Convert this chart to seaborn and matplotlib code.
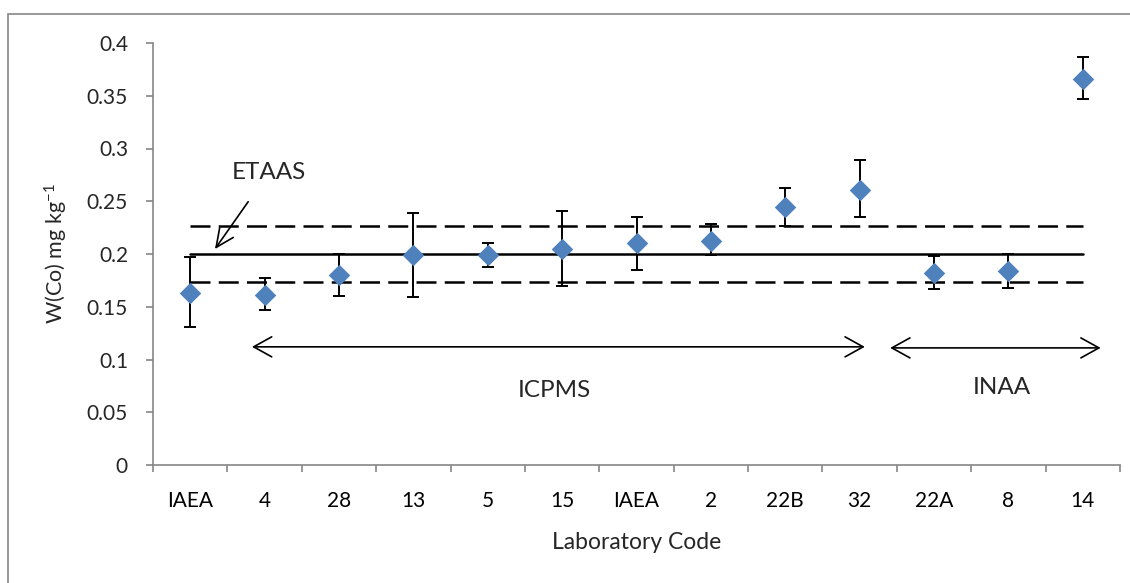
import numpy as np
import pandas as pd
import matplotlib
matplotlib.use("Agg")
import matplotlib.pyplot as plt
from matplotlib.patches import Rectangle
import seaborn as sns

# Laboratory results for cobalt mass fraction
lab_codes = ["IAEA", "4", "28", "13", "5", "15", "IAEA", "2", "22B", "32", "22A", "8", "14"]
w_co = [0.163, 0.161, 0.180, 0.199, 0.199, 0.205, 0.210, 0.212, 0.245, 0.261, 0.182, 0.184, 0.366]
w_co_upper = [0.197, 0.177, 0.200, 0.239, 0.210, 0.241, 0.235, 0.228, 0.263, 0.289, 0.198, 0.200, 0.387]
w_co_lower = [0.131, 0.147, 0.160, 0.159, 0.188, 0.170, 0.185, 0.199, 0.227, 0.235, 0.167, 0.168, 0.347]

# Reference value and its uncertainty band
ref_value = 0.200
ref_upper = 0.227
ref_lower = 0.173

y_ticks = [0, 0.05, 0.1, 0.15, 0.2, 0.25, 0.3, 0.35, 0.4]
y_tick_labels = ["0", "0.05", "0.1", "0.15", "0.2", "0.25", "0.3", "0.35", "0.4"]

sns.set_theme(style="white")
plt.rcParams["font.family"] = ["Lato", "DejaVu Sans"]
plt.rcParams["mathtext.fontset"] = "custom"
plt.rcParams["mathtext.rm"] = "Lato"
plt.rcParams["mathtext.it"] = "Lato:italic"

df = pd.DataFrame({
    "pos": np.arange(len(lab_codes)),
    "code": lab_codes,
    "w": w_co,
    "hi": w_co_upper,
    "lo": w_co_lower,
})

fig = plt.figure(figsize=(11.3, 5.83), dpi=100)
ax = fig.add_axes([153 / 1130, 1 - 465 / 583, (1120 - 153) / 1130, (465 - 43) / 583])

axis_grey = "#868686"
marker_blue = "#4F81BD"

# Reference line and dashed uncertainty limits
first, last = df["pos"].iloc[0], df["pos"].iloc[-1]
ax.plot([first, last], [ref_value, ref_value], color="black", lw=1.8, zorder=1)
for v in (ref_upper, ref_lower):
    ax.plot([first, last], [v, v], color="black", lw=1.8, dashes=(8, 3.3), zorder=1)

# Error bars
ax.errorbar(df["pos"], df["w"],
            yerr=[df["w"] - df["lo"], df["hi"] - df["w"]],
            fmt="none", ecolor="black", elinewidth=1.4, capsize=4.3, capthick=1.4, zorder=2)

# Laboratory means
sns.scatterplot(data=df, x="pos", y="w", marker="D", s=120, color=marker_blue,
                edgecolor=marker_blue, linewidth=0, ax=ax, zorder=3, legend=False)

ax.set_xlim(-0.5, len(lab_codes) - 0.5)
ax.set_ylim(0, 0.4)
ax.set_yticks(y_ticks)
ax.set_yticklabels(y_tick_labels)
ax.set_xticks(df["pos"])
ax.set_xticklabels(lab_codes)
ax.set_xticks(np.arange(len(lab_codes) + 1) - 0.5, minor=True)

ax.tick_params(axis="x", which="major", length=0, pad=19, labelsize=15, colors="black")
ax.tick_params(axis="x", which="minor", length=5, width=1.2, color=axis_grey, bottom=True)
ax.tick_params(axis="y", which="major", length=5, width=1.2, color=axis_grey, left=True,
               labelsize=15, pad=13)

for side in ("top", "right"):
    ax.spines[side].set_visible(False)
for side in ("left", "bottom"):
    ax.spines[side].set_color(axis_grey)
    ax.spines[side].set_linewidth(1.2)

ax.set_xlabel("Laboratory Code", fontsize=16.5, labelpad=15)
ax.set_ylabel("W(Co) mg kg$^{-1}$", fontsize=15.5)
ax.yaxis.set_label_coords(-0.086, 0.5)

# Method group annotations
arrow_kw = dict(arrowstyle="<->,head_length=1.3,head_width=0.72", color="black",
                lw=1.2, shrinkA=0, shrinkB=0, mutation_scale=10)
ax.annotate("", xy=(9.07, 0.112), xytext=(0.83, 0.112), arrowprops=arrow_kw)
ax.annotate("", xy=(12.24, 0.111), xytext=(9.41, 0.111), arrowprops=arrow_kw)
ax.text(4.89, 0.071, "ICPMS", fontsize=17.5, ha="center", va="center")
ax.text(10.91, 0.073, "INAA", fontsize=17.5, ha="center", va="center")
ax.annotate("ETAAS", xy=(0.333, 0.2047), xytext=(1.06, 0.2777),
            fontsize=17.5, ha="center", va="center",
            arrowprops=dict(arrowstyle="->,head_length=1.3,head_width=0.6", color="black",
                            lw=1.2, shrinkA=14, shrinkB=0, mutation_scale=10))

# Chart frame
fig.patches.append(Rectangle((8 / 1130, -0.1), 1.2, 1 - 14 / 583 + 0.1,
                             transform=fig.transFigure, fill=False,
                             edgecolor=axis_grey, lw=1.2))

fig.savefig("out.png", dpi=100)
